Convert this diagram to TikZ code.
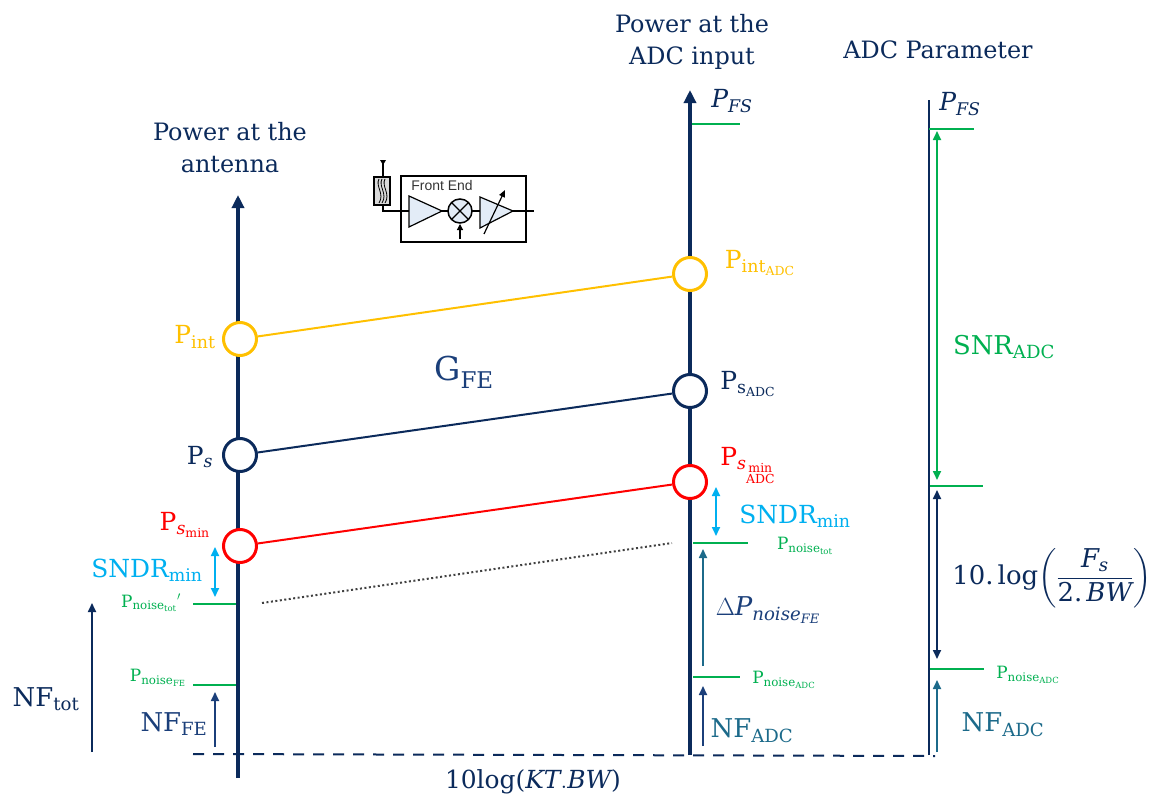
\documentclass[tikz,border=0pt]{standalone}
\usepackage{amsmath}
\usepackage{fontspec}
\setmainfont{DejaVu Serif}
\newfontfamily\arialf{Liberation Sans}
\usetikzlibrary{arrows.meta}
\definecolor{navy}{HTML}{0B2A5B}
\definecolor{dblue}{HTML}{1B3F7A}
\definecolor{teal2}{HTML}{1C6A8A}
\definecolor{gold}{HTML}{FFC000}
\definecolor{grn}{HTML}{00B050}
\definecolor{cya}{HTML}{00B0F0}
\definecolor{boxf}{HTML}{E3ECF7}
\newcommand{\fs}[1]{\fontsize{#1}{#1}\selectfont}
\tikzset{
 x=1bp,y=-1bp,
 axisl/.style={navy,line width=4.5bp,-{Triangle[length=13bp,width=12bp]}},
 ring/.style={circle,draw=#1,line width=3bp,minimum size=33bp,inner sep=0pt,fill=white},
 tick/.style={grn,line width=2bp},
 lab/.style={inner sep=0pt,font=\fs{#1}},
 lab/.default=24,
 dbl/.style={line width=1.7bp,{Triangle[length=9bp,width=8bp]}-{Triangle[length=9bp,width=8bp]}},
 one/.style={line width=1.7bp,-{Triangle[length=9bp,width=8bp]}},
 fe/.style={black,line width=1bp},
}
\begin{document}
\begin{tikzpicture}
\useasboundingbox (0,0) rectangle (1161,798);
% helper coordinates
\coordinate (a1b) at (238,778); \coordinate (a1t) at (238,195);
\coordinate (a2b) at (690,755); \coordinate (a2t) at (690,90);
\coordinate (a3b) at (929,755); \coordinate (a3t) at (929,100);
\draw[axisl] (a1b) -- (a1t);
\draw[axisl] (a2b) -- (a2t);
\draw[navy,line width=2bp] (a3b) -- (a3t);
% dashed baseline
\coordinate (dl) at (193,754); \coordinate (dr) at (935,756);
\draw[navy,line width=2bp,dash pattern=on 11bp off 9bp] (dl) -- (dr);
% rings
\node[ring=gold] (i1) at (240,339) {};
\node[ring=navy] (s1) at (240,455) {};
\node[ring=red] (m1) at (240,546) {};
\node[ring=gold] (i2) at (690,274) {};
\node[ring=navy] (s2) at (690,391) {};
\node[ring=red] (m2) at (690,482) {};
\draw[gold,line width=2bp] (i1) -- (i2);
\draw[navy,line width=2bp] (s1) -- (s2);
\draw[red,line width=2bp] (m1) -- (m2);
\coordinate (d1) at (262,603); \coordinate (d2) at (672,543);
\draw[black!75,line width=2bp,dash pattern=on 2bp off 2.5bp] (d1) -- (d2);
% ticks
\foreach \n/\a/\b/\y in {t1/692/740/124,t2/929/974/129,t3/930/983/486,t4/930/984/669,t5/193/236/604,t6/193/236/685,t7/693/748/543,t8/693/740/677}{
 \coordinate (\n a) at (\a,\y); \coordinate (\n b) at (\b,\y);
 \draw[tick] (\n a) -- (\n b);}
% arrows
\foreach \n/\x/\ya/\yb/\st/\col in {
 a/215/547/597/dbl/cya, b/716/487/536/dbl/cya, c/92/752/603/one/navy, d/215/747/692/one/dblue,
 e/703/666/549/one/teal2, f/703/746/686/one/dblue, g/937/131/480/dbl/grn, h/937/490/659/dbl/navy, k/937/752/680/one/teal2}{
 \coordinate (\n1) at (\x,\ya); \coordinate (\n2) at (\x,\yb);
 \draw[\st,\col] (\n1) -- (\n2);}
% headings
\node[lab=24,navy,align=center] (h1) at (230,148) {Power at the\\[8bp]antenna};
\node[lab=24,navy,align=center] (h2) at (692,42) {Power at the\\[8bp]ADC input};
\node[lab=24,navy] (h3) at (938,50) {ADC Parameter};
% labels
\node[lab=25,navy] (pfs1) at (732,101) {$\textit{P}_{\textit{FS}}$};
\node[lab=25,navy] (pfs2) at (960,104) {$\textit{P}_{\textit{FS}}$};
\node[lab=25,gold] (li1) at (195,337) {$\text{P}_{\text{int}}$};
\node[lab=25,gold] (li2) at (760,263) {$\text{P}_{\text{int}_{\text{ADC}}}$};
\node[lab=25,navy] (ls1) at (200,457) {$\text{P}_{\textit{s}}$};
\node[lab=25,navy] (ls2) at (748,384) {$\text{P}_{\text{s}_{\text{ADC}}}$};
\node[lab=25,red] (lm1) at (185,525) {$\text{P}_{\textit{s}_{\text{min}}}$};
\node[lab=25,red] (lm2) at (748,466) {$\text{P}_{\textit{s}_{\underset{\text{ADC}}{\text{min}}}}$};
\node[lab=33,dblue] (gfe) at (464,372) {$\text{G}_{\text{FE}}$};
\node[lab=25,cya] (sn1) at (147,570) {$\text{SNDR}_{\text{min}}$};
\node[lab=25,cya] (sn2) at (795,516) {$\text{SNDR}_{\text{min}}$};
\node[lab=17,grn] (n1) at (151,603) {$\text{P}_{\text{noise}_{\text{tot}}}{}'$};
\node[lab=17,grn] (n2) at (158,678) {$\text{P}_{\text{noise}_{\text{FE}}}$};
\node[lab=17,grn] (n3) at (805,546) {$\text{P}_{\text{noise}_{\text{tot}}}$};
\node[lab=17,grn] (n4) at (784,680) {$\text{P}_{\text{noise}_{\text{ADC}}}$};
\node[lab=17,grn] (n5) at (1028,675) {$\text{P}_{\text{noise}_{\text{ADC}}}$};
\node[lab=26,navy] (nft) at (46,699) {$\text{NF}_{\text{tot}}$};
\node[lab=26,dblue] (nff) at (174,724) {$\text{NF}_{\text{FE}}$};
\node[lab=26,teal2] (nfa) at (752,731) {$\text{NF}_{\text{ADC}}$};
\node[lab=26,teal2] (nfb) at (1003,725) {$\text{NF}_{\text{ADC}}$};
\node[lab=26,dblue] (dp) at (768,610) {$\Delta\textit{P}_{\textit{noise}_{\textit{FE}}}$};
\node[lab=26,grn] (snr) at (1004,347) {$\text{SNR}_{\text{ADC}}$};
\node[lab=26,navy] (lg) at (1052,578) {$\text{10.}\,\text{log}\!\left(\dfrac{\textit{F}_{\textit{s}}}{\text{2.}\,\textit{BW}}\right)$};
\node[lab=25,navy] (kt) at (533,782) {10log($\textit{KT}.\textit{BW}$)};
% front end block
\draw[fe,line width=1.5bp] (401,176) rectangle (526,242);
\node[lab=14,font=\arialf\fs{14},black!80] (ft) at (442,186) {Front End};
\draw[fe,line width=1.5bp] (383,205) -- (383,211) -- (409,211);
\draw[fe,line width=1.5bp] (383,177) -- (383,162);
\fill[black] (380,160) -- (386,160) -- (383,165) -- cycle;
\draw[fe,fill=black!15,line width=1.3bp] (374,177) rectangle (390,205);
\foreach \dx in {-3,0,3}{\draw[black,line width=.8bp] (382+\dx,179) .. controls (378+\dx,186) and (388+\dx,194) .. (382+\dx,203);}
\draw[fe,fill=boxf,line width=1.2bp] (409,196) -- (442,211) -- (409,227) -- cycle;
\draw[fe,line width=1.2bp] (442,211) -- (448,211);
\draw[fe,fill=boxf,line width=1.5bp] (460,211) circle (12);
\draw[fe,line width=1.2bp] (451.5,202.5) -- (468.5,219.5) (451.5,219.5) -- (468.5,202.5);
\draw[fe,line width=1.2bp] (472,211) -- (480,211);
\draw[fe,fill=boxf,line width=1.2bp] (480,197) -- (513,211) -- (480,228) -- cycle;
\draw[fe,line width=1.2bp] (513,211) -- (534,211);
\draw[fe,line width=1.2bp,-{Triangle[length=7bp,width=6bp]}] (484,234) -- (505,190);
\draw[fe,line width=1.2bp,-{Triangle[length=6bp,width=6bp]}] (460,239) -- (460,224);
\end{tikzpicture}
\end{document}
